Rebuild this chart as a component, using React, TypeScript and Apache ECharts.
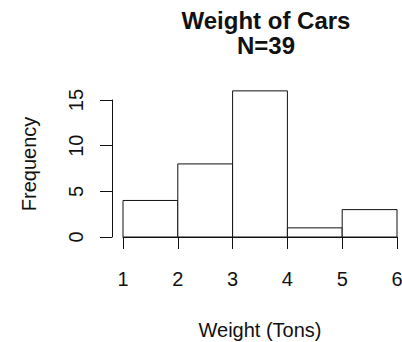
import React, { useEffect, useRef } from "react";
import * as echarts from "echarts";

const breaks = [1, 2, 3, 4, 5, 6];
const counts = [4, 8, 16, 1, 3];
const yTicks = { min: 0, max: 15, interval: 5 };
const titleLines = ["Weight of Cars", "N=39"];
const xName = "Weight (Tons)";
const yName = "Frequency";

const FONT = "'Liberation Sans', Arial, Helvetica, sans-serif";
const INK = "#111";

export default function App() {
  const ref = useRef<HTMLDivElement>(null);
  useEffect(() => {
    if (!ref.current) return;
    const chart = echarts.init(ref.current, undefined, { renderer: "svg" });
    const bins = counts.map((c, i) => [breaks[i], breaks[i + 1], c]);
    const plotLeft = 123;
    const plotRight = 5;
    const base = 237;
    const axTop = 100;
    const unit = (base - axTop) / yTicks.max;
    const barTop = base - 16 * unit;
    chart.setOption({
      animation: false,
      backgroundColor: "#fff",
      textStyle: { fontFamily: FONT, color: INK },
      title: {
        text: titleLines.join("\n"),
        left: 261,
        top: 3,
        textAlign: "center",
        textStyle: {
          fontFamily: FONT,
          fontWeight: "bold",
          fontSize: 24,
          lineHeight: 25,
          color: INK,
        },
      },
      grid: [
        {
          left: plotLeft,
          right: plotRight,
          top: barTop,
          bottom: 342 - base,
          outerBoundsMode: "none",
          containLabel: false,
        },
        {
          left: plotLeft,
          right: plotRight,
          top: axTop,
          bottom: 342 - base,
          outerBoundsMode: "none",
          containLabel: false,
        },
      ],
      xAxis: [
        {
          type: "value",
          gridIndex: 0,
          min: breaks[0],
          max: breaks[breaks.length - 1],
          interval: 1,
          offset: 6,
          splitLine: { show: false },
          axisLine: { show: true, lineStyle: { color: INK, width: 1 } },
          axisTick: { show: true, length: 12, lineStyle: { color: INK } },
          axisLabel: { fontFamily: FONT, fontSize: 20, color: INK, margin: 26 },
          name: xName,
          nameLocation: "middle",
          nameGap: 77,
          nameTextStyle: { fontFamily: FONT, fontSize: 20, color: INK },
        },
        {
          type: "value",
          gridIndex: 1,
          min: breaks[0],
          max: breaks[breaks.length - 1],
          show: false,
        },
      ],
      yAxis: [
        {
          type: "value",
          gridIndex: 0,
          min: 0,
          max: 16,
          offset: 11,
          splitLine: { show: false },
          axisLine: { show: false },
          axisTick: { show: false },
          axisLabel: { show: false },
          name: yName,
          nameLocation: "middle",
          nameRotate: 90,
          nameGap: 73,
          nameTextStyle: { fontFamily: FONT, fontSize: 20, color: INK },
        },
        {
          type: "value",
          gridIndex: 1,
          min: yTicks.min,
          max: yTicks.max,
          interval: yTicks.interval,
          offset: 11,
          splitLine: { show: false },
          axisLine: { show: true, lineStyle: { color: INK, width: 1 } },
          axisTick: { show: true, length: 12, lineStyle: { color: INK } },
          axisLabel: {
            fontFamily: FONT,
            fontSize: 20,
            color: INK,
            rotate: 90,
            margin: 26,
          },
        },
      ],
      series: [
        {
          type: "custom",
          xAxisIndex: 0,
          yAxisIndex: 0,
          data: bins,
          encode: { x: [0, 1], y: 2 },
          renderItem: (params: any, api: any) => {
            const p0 = api.coord([api.value(0), 0]);
            const p1 = api.coord([api.value(1), api.value(2)]);
            return {
              type: "rect",
              shape: {
                x: p0[0],
                y: p1[1],
                width: p1[0] - p0[0],
                height: p0[1] - p1[1],
              },
              style: { fill: "#fff", stroke: INK, lineWidth: 1 },
            };
          },
        },
      ],
    });
    return () => chart.dispose();
  }, []);
  return (
    <div
      ref={ref}
      style={{ position: "fixed", left: 0, top: 0, width: 402, height: 342 }}
    />
  );
}
